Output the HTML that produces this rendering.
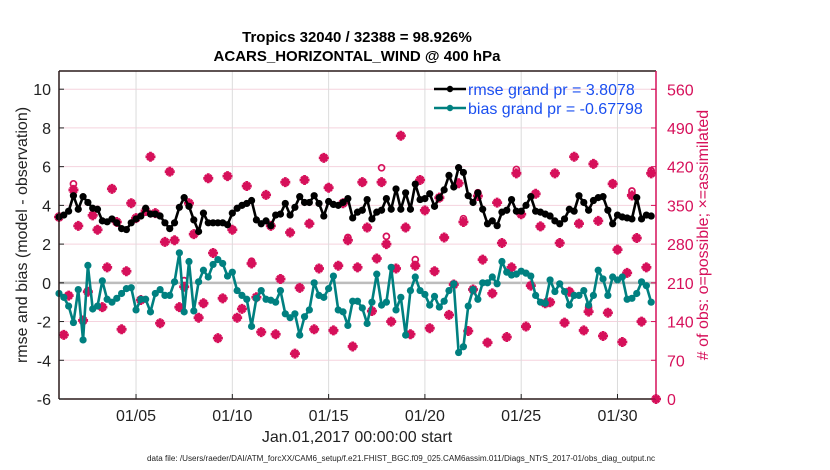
<!DOCTYPE html>
<html><head><meta charset="utf-8"><style>
body{margin:0;background:#fff;}
svg{display:block;font-family:"Liberation Sans",sans-serif;}
</style></head><body>
<svg id="chart" width="830" height="470" viewBox="0 0 830 470" xmlns="http://www.w3.org/2000/svg">
<rect width="830" height="470" fill="#fff"/>
<g id="grid"></g>
<g id="series"></g>
<g id="axes"></g>
<text x="357" y="42" text-anchor="middle" font-size="15" font-weight="bold">Tropics 32040 / 32388 = 98.926%</text>
<text x="357" y="61" text-anchor="middle" font-size="15" font-weight="bold">ACARS_HORIZONTAL_WIND @ 400 hPa</text>
<text x="357" y="442" text-anchor="middle" font-size="16" fill="#222">Jan.01,2017 00:00:00 start</text>
<text x="147" y="461" font-size="8" textLength="508" lengthAdjust="spacingAndGlyphs" fill="#222">data file: /Users/raeder/DAI/ATM_forcXX/CAM6_setup/f.e21.FHIST_BGC.f09_025.CAM6assim.011/Diags_NTrS_2017-01/obs_diag_output.nc</text>
<text transform="translate(27,235) rotate(-90)" text-anchor="middle" font-size="16" fill="#222">rmse and bias (model - observation)</text>
<text transform="translate(708,235) rotate(-90)" text-anchor="middle" font-size="16" fill="#d6105a"># of obs: o=possible; ×=assimilated</text>
<g>
<line x1="434" y1="89" x2="466" y2="89" stroke="#000" stroke-width="2.5"/><circle cx="450" cy="89" r="3.2" fill="#000"/>
<text x="468" y="95" font-size="16" fill="#1a4ff0">rmse grand pr = 3.8078</text>
<line x1="434" y1="108" x2="466" y2="108" stroke="#008080" stroke-width="2.5"/><circle cx="450" cy="108" r="3.2" fill="#008080"/>
<text x="468" y="114" font-size="16" fill="#1a4ff0">bias grand pr = -0.67798</text>
</g>
</svg>
<script>
const rmse = [3.4,
3.5,3.7,4.5,3.8,4.45,4.15,3.85,3.8,3.2,3.15,3.3,3.1,2.8,2.75,3.1,3.3,
3.45,3.85,3.55,3.55,3.45,3.1,2.8,3.1,3.9,4.4,3.95,3.25,2.65,3.6,3.1,3.1,3.1,3.1,3.0,3.6,
3.85,4.0,4.1,4.25,3.25,3.05,3.2,2.95,3.5,3.55,4.1,3.5,3.9,4.45,4.15,4.15,4.5,4.1,3.45,4.2,
4.05,4.0,4.15,4.35,3.35,
3.65,3.75,4.3,3.3,3.65,3.75,4.35,3.8,4.85,3.8,4.65,3.8,5.1,4.3,4.35,4.6,3.95,4.4,4.8,5.55,4.95,5.95,5.7,4.5,4.15,4.65,3.8,3.05,3.2,2.95,3.65,3.75,
4.3,3.7,3.7,4.0,4.45,3.7,3.65,3.55,3.45,3.2,3.05,3.3,3.8,3.7,4.5,4.15,3.75,4.25,4.4,4.45,3.75,3.05,3.5,3.4,3.35,3.3,4.4,3.3,3.5,3.45];
const bias = [-0.55,-0.75,-1.2,-2.05,-0.35,-2.95,0.9,-1.35,-1.2,0.1,-0.85,-1.0,-0.8,-0.55,-0.3,-0.25,-1.4,
-0.85,-0.85,-1.5,-0.55,-0.35,-0.65,-0.65,0.05,1.55,-1.5,1.1,-1.45,0.05,0.65,0.3,0.95,1.2,1.0,0.35,0.55,
-0.4,-0.65,-0.85,-2.25,-0.8,-0.4,-0.85,-0.9,-1.0,-0.4,-1.6,-1.8,-1.6,-2.7,-1.75,-1.4,0,-0.65,-0.75,-0.3,
0.35,-1.4,-1.5,-2.2,-0.95,
-0.95,-1.3,-2.1,-1.0,0.45,-1.15,-1.0,0.8,-1.4,-0.75,-2.7,-0.4,0.3,-0.4,-0.6,
-1.15,-0.7,-1.25,-0.95,-0.4,-0.05,-3.6,-3.3,-1.2,-0.35,-0.85,0,0,0.3,-0.05,1.1,0.55,
0.4,0.45,0.6,0.5,0.35,-0.65,-1.0,-1.05,0.15,-0.45,-0.05,-0.45,-1.15,-0.65,-0.65,-0.4,-1.15,-0.65,0.65,0.2,-0.65,0.3,0.15,0.3,-0.85,-0.8,-0.55,0.05,-0.15,-1.0];
const assimilatedCounts = [329,116,187,378,313,142,194,332,306,166,238,380,320,126,231,354,327,179,340,438,336,137,284,411,287,166,203,354,298,147,173,399,264,110,182,403,306,147,163,385,245,184,121,369,313,117,217,392,301,82,201,396,317,126,236,436,382,
124,241,354,287,95,238,392,310,159,254,392,280,140,236,476,310,117,241,396,341,128,231,364,292,152,207,390,320,123,198,367,252,102,191,355,282,112,
238,408,334,131,205,371,312,173,175,408,282,138,194,438,317,124,158,425,322,114,156,389,270,103,228,368,291,140,238,408,0];
const possibleCounts = [329,116,187,389,313,142,194,332,306,166,238,380,320,126,231,354,327,179,340,438,336,137,284,411,287,166,214,354,298,147,173,399,264,110,182,403,306,147,163,385,249,184,121,369,313,117,217,392,301,82,201,396,317,126,236,436,382,
124,241,354,292,95,238,392,310,159,254,418,294,140,236,476,310,117,252,396,341,128,231,364,292,152,207,390,326,123,198,373,252,102,191,355,282,112,
238,415,334,131,205,371,312,173,175,408,282,138,194,438,317,124,166,425,322,114,156,389,270,103,228,376,291,140,238,413,0];
const stepDays = 0.25;
const xTickDays = [4,9,14,19,24,29];
const xTickLabels = ["01/05","01/10","01/15","01/20","01/25","01/30"];
const leftTicks = [-6,-4,-2,0,2,4,6,8,10];
const rightTicks = [0,70,140,210,280,350,420,490,560];

const L=59,R=656,T=71,B=399;
const xDomain=[0,31], yDomain=[-6,10.94], cDomain=[0,593];
const xs=d=>L+(d-xDomain[0])/(xDomain[1]-xDomain[0])*(R-L);
const ys=v=>B-(v-yDomain[0])/(yDomain[1]-yDomain[0])*(B-T);
const cs=c=>B-(c-cDomain[0])/(cDomain[1]-cDomain[0])*(B-T);
const NS="http://www.w3.org/2000/svg";
function mk(tag,attrs,parent){const e=document.createElementNS(NS,tag);for(const k in attrs)e.setAttribute(k,attrs[k]);parent.appendChild(e);return e;}
const grid=document.getElementById('grid'),series=document.getElementById('series'),axes=document.getElementById('axes');
const PINK="#d6105a";

leftTicks.forEach(v=>{
  const g=mk('line',{x1:L,x2:R,y1:ys(v),y2:ys(v),stroke:v===0?"#bdbdbd":"#f5d3de","stroke-width":v===0?2.5:1},grid);
  
  
});
xTickDays.forEach(d=>{
  const g=mk('line',{x1:xs(d),x2:xs(d),y1:T,y2:B,stroke:"#dcdcdc","stroke-width":1},grid);
  
  
});

function drawCounts(arr,kind){
  arr.forEach((c,i)=>{
    const x=xs(i*stepDays), y=cs(c);
    if(kind==='o'){
      const e=mk('circle',{cx:x,cy:y,r:3,fill:"none",stroke:PINK,"stroke-width":1.7},series);
      
      
    } else {
      const s=5;
      const e=mk('path',{d:`M${x-s},${y}H${x+s}M${x},${y-s}V${y+s}M${x-3.3},${y-3.3}L${x+3.3},${y+3.3}M${x-3.3},${y+3.3}L${x+3.3},${y-3.3}`,stroke:PINK,"stroke-width":2.8,fill:"none"},series);
      
      
    }
  });
}
drawCounts(possibleCounts,'o');
drawCounts(assimilatedCounts,'*');

function drawLine(arr,color,name){
  const pts=arr.map((v,i)=>xs(i*stepDays)+','+ys(v)).join(' ');
  const p=mk('polyline',{points:pts,fill:"none",stroke:color,"stroke-width":2.6,"stroke-linejoin":"round"},series);
  
  
  arr.forEach((v,i)=>{
    const c=mk('circle',{cx:xs(i*stepDays),cy:ys(v),r:3.6,fill:color},series);
    
    
  });
}
drawLine(rmse,"#000",'rmse');
drawLine(bias,"#008080",'bias');

let a=mk('line',{x1:L,x2:R,y1:T,y2:T,stroke:"#2a1a1a","stroke-width":1.5},axes);

a=mk('line',{x1:L,x2:R,y1:B,y2:B,stroke:"#2a1a1a","stroke-width":1.5},axes);

a=mk('line',{x1:L,x2:L,y1:T,y2:B,stroke:"#2a1a1a","stroke-width":1.5},axes);

a=mk('line',{x1:R,x2:R,y1:T,y2:B,stroke:PINK,"stroke-width":1.5},axes);


leftTicks.forEach(v=>{
  const t=mk('line',{x1:L,x2:L+5,y1:ys(v),y2:ys(v),stroke:"#222"},axes);
  
  
  const tx=mk('text',{x:L-8,y:ys(v)+6,"text-anchor":"end","font-size":16,fill:"#222"},axes);
  tx.textContent=v;
  
  
});
rightTicks.forEach(c=>{
  const t=mk('line',{x1:R-5,x2:R,y1:cs(c),y2:cs(c),stroke:PINK},axes);
  
  
  const tx=mk('text',{x:R+11,y:cs(c)+6,"font-size":16,fill:PINK},axes);
  tx.textContent=c;
  
  
});
xTickDays.forEach((d,i)=>{
  const t=mk('line',{x1:xs(d),x2:xs(d),y1:B-5,y2:B,stroke:"#222"},axes);
  
  
  const tx=mk('text',{x:xs(d),y:B+22,"text-anchor":"middle","font-size":16,fill:"#222"},axes);
  tx.textContent=xTickLabels[i];
  
  
});
</script>
</body></html>
